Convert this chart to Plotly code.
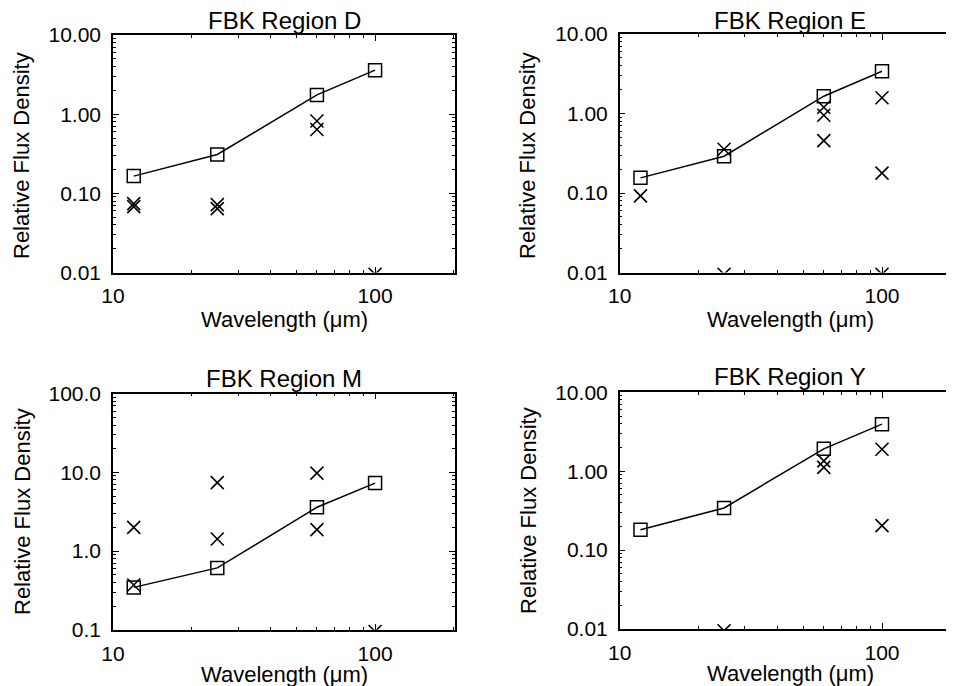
import plotly.graph_objects as go

W, H = 954, 686
OFF = 8  # page body margin offset of the rendered html

wavelengths = [12, 25, 60, 100]

titles = ["FBK Region D", "FBK Region E", "FBK Region M", "FBK Region Y"]

D_model = [0.165, 0.31, 1.75, 3.6]
D_obs_x = [12, 12, 25, 25, 60, 60, 100]
D_obs_y = [0.074, 0.068, 0.072, 0.064, 0.82, 0.64, 0.0095]

E_model = [0.155, 0.29, 1.65, 3.4]
E_obs_x = [12, 25, 25, 60, 60, 60, 100, 100, 100]
E_obs_y = [0.092, 0.355, 0.0095, 1.2, 0.95, 0.455, 1.58, 0.178, 0.0095]

M_model = [0.345, 0.61, 3.6, 7.3]
M_obs_x = [12, 12, 25, 25, 60, 60, 100]
M_obs_y = [2.0, 0.37, 7.4, 1.42, 9.8, 1.87, 0.095]

Y_model = [0.181, 0.342, 1.92, 3.95]
Y_obs_x = [25, 60, 60, 100, 100]
Y_obs_y = [0.0095, 1.35, 1.12, 1.9, 0.204]

x_tickvals = [10, 100]
x_ticktext = ["10", "100"]
y_tickvals_a = [0.01, 0.1, 1, 10]
y_ticktext_a = ["0.01", "0.10", "1.00", "10.00"]
y_tickvals_b = [0.1, 1, 10, 100]
y_ticktext_b = ["0.1", "1.0", "10.0", "100.0"]

xlabel = "Wavelength (\u03bcm)"
ylabel = "Relative Flux Density"

FONT = "Liberation Sans, Arial, Helvetica, sans-serif"


def xp(px):
    return (px - OFF) / W


def yp(py):
    return 1 - (py - OFF) / H


panels = [
    dict(l=113, r=455, t=35, b=272.5, yr=[-2, 1], model=D_model, ox=D_obs_x, oy=D_obs_y,
         yt=(y_tickvals_a, y_ticktext_a), ymirror="ticks"),
    dict(l=619.7, r=None, t=34, b=272.5, yr=[-2, 1], model=E_model, ox=E_obs_x, oy=E_obs_y,
         yt=(y_tickvals_a, y_ticktext_a), ymirror=False),
    dict(l=113, r=455, t=393.7, b=629.7, yr=[-1, 2], model=M_model, ox=M_obs_x, oy=M_obs_y,
         yt=(y_tickvals_b, y_ticktext_b), ymirror="ticks"),
    dict(l=619.7, r=None, t=392.3, b=629, yr=[-2, 1], model=Y_model, ox=Y_obs_x, oy=Y_obs_y,
         yt=(y_tickvals_a, y_ticktext_a), ymirror=False),
]

title_pos = [(284, 20.5), (790, 20.5), (284, 378), (790, 376.5)]
xlab_pos = [(284, 319), (790, 319), (284, 674), (790, 673.5)]
ylab_pos = [(22, 156), (528, 156), (22, 512), (528, 511)]

fig = go.Figure()
annotations = []

for i, p in enumerate(panels):
    n = "" if i == 0 else str(i + 1)
    xa = "x" + n
    ya = "y" + n
    fig.add_trace(go.Scatter(
        x=wavelengths, y=p["model"], mode="lines+markers", xaxis=xa, yaxis=ya,
        line=dict(color="black", width=1.5),
        marker=dict(symbol="square-open", size=13, color="black", line=dict(width=1.5, color="black")),
        showlegend=False, cliponaxis=True))
    fig.add_trace(go.Scatter(
        x=p["ox"], y=p["oy"], mode="markers", xaxis=xa, yaxis=ya,
        marker=dict(symbol="x-thin", size=13, color="black", line=dict(width=1.6, color="black")),
        showlegend=False, cliponaxis=True))

    common = dict(type="log", showgrid=False, zeroline=False, showline=True, linecolor="black",
                  linewidth=1.5, ticks="inside", ticklen=6, tickwidth=1.2, tickcolor="black",
                  automargin=False,
                  tickfont=dict(family=FONT, size=21, color="black"))
    xr_dom = xp(p["r"]) if p["r"] is not None else 1.0
    xd = dict(common, domain=[xp(p["l"]), xr_dom], range=[1, 2.305], anchor=ya, mirror="ticks",
              tickvals=x_tickvals, ticktext=x_ticktext, ticklabelstandoff=4,
              minor=dict(ticks="inside", ticklen=3, tickwidth=1, tickcolor="black", dtick="D1", showgrid=False))
    yd = dict(common, domain=[yp(p["b"]), yp(p["t"])], range=p["yr"], anchor=xa, mirror=p["ymirror"],
              tickvals=p["yt"][0], ticktext=p["yt"][1], ticklabelstandoff=6,
              minor=dict(ticks="inside", ticklen=3, tickwidth=1, tickcolor="black", dtick="D1", showgrid=False))
    fig.layout["xaxis" + n] = xd
    fig.layout["yaxis" + n] = yd

    tx, ty = title_pos[i]
    annotations.append(dict(text=titles[i], x=xp(tx), y=yp(ty), xref="paper", yref="paper",
                            xanchor="center", yanchor="middle", showarrow=False,
                            font=dict(family=FONT, size=24, color="black")))
    lx, ly = xlab_pos[i]
    annotations.append(dict(text=xlabel, x=xp(lx), y=yp(ly), xref="paper", yref="paper",
                            xanchor="center", yanchor="middle", showarrow=False,
                            font=dict(family=FONT, size=22, color="black")))
    vx, vy = ylab_pos[i]
    annotations.append(dict(text=ylabel, x=xp(vx), y=yp(vy), xref="paper", yref="paper",
                            xanchor="center", yanchor="middle", showarrow=False, textangle=-90,
                            font=dict(family=FONT, size=22, color="black")))

fig.update_layout(width=W, height=H, margin=dict(l=0, r=0, t=0, b=0, pad=0, autoexpand=False),
                  paper_bgcolor="white", plot_bgcolor="white", annotations=annotations)

fig.write_html("out.html")
